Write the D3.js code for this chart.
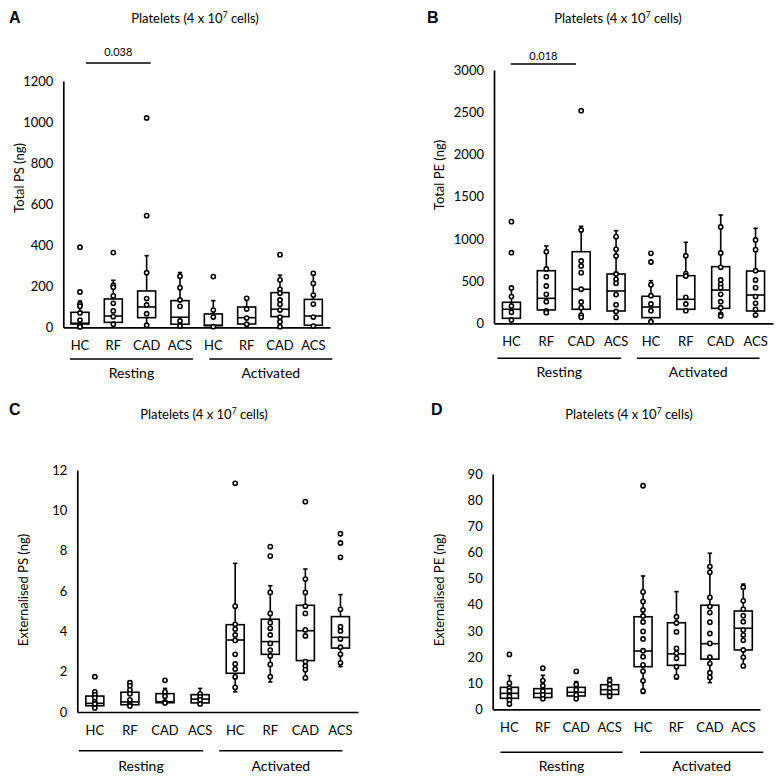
<!DOCTYPE html>
<html><head><meta charset="utf-8">
<script src="https://cdn.jsdelivr.net/npm/d3@7"></script>
<style>
html,body{margin:0;padding:0;background:#fff;}
svg{display:block;}
text{font-family:Lato,"Open Sans",sans-serif;fill:#000;}
</style></head>
<body>
<svg id="chart" width="777" height="778"></svg>
<script>
// ---------- DATA ----------
const categories = ["HC","RF","CAD","ACS","HC","RF","CAD","ACS"];
const conditions = ["Resting","Activated"];
const titleText = "Platelets (4 x 10";

const ticksA = [0,200,400,600,800,1000,1200];
const ticksB = [0,500,1000,1500,2000,2500,3000];
const ticksC = [0,2,4,6,8,10,12];
const ticksD = [0,10,20,30,40,50,60,70,80,90];

// box stats: [whiskerLow, Q1, median, Q3, whiskerHigh]
const totalPS_box = [
  [0,16,20,73,128],[12,24,55,138,229],[5,47,99,177,349],[3,15,49,130,267],
  [0,8,10,65,130],[10,16,47,99,145],[3,52,88,169,254],[3,10,55,136,268]];
const totalPS_pts = [
  [390,172,113,103,70,35,10,5,2],[364,205,195,153,117,80,52,15],[1020,544,266,140,109,66,10],[249,193,133,102,31,6],
  [247,84,50,3],[141,89,45,15],[354,231,185,166,133,112,84,49,27,3],[263,214,157,113,50,6]];

const totalPE_box = [
  [30,59,166,249,420],[120,158,296,623,916],[70,166,403,848,1149],[60,146,383,584,1097],
  [15,67,193,320,505],[140,166,284,564,959],[80,177,394,671,1283],[90,146,335,619,1125]];
const totalPE_pts = [
  [1204,836,418,316,205,130,39],[848,643,552,442,343,256,146,126],[2518,1105,738,679,600,403,252,185,98,71],[1026,876,797,584,521,474,340,220,140,70],
  [829,726,457,327,229,149,19],[800,588,560,308,229,149],[1141,833,663,513,462,422,343,256,185,106,87],[987,872,623,513,422,316,237,166,98]];

const extPS_box = [
  [0.2,0.31,0.43,0.79,1.04],[0.3,0.36,0.5,0.98,1.54],[0.42,0.46,0.51,0.91,1.17],[0.35,0.45,0.64,0.86,1.17],
  [1.0,1.92,3.57,4.33,7.37],[1.49,2.86,3.49,4.6,6.26],[1.64,2.55,4.03,5.29,7.09],[2.25,3.17,3.7,4.73,5.82]];
const extPS_pts = [
  [1.75,1.0,0.85,0.7,0.5,0.4,0.2],[1.45,1.3,1.1,0.9,0.6,0.4,0.3],[1.57,1.0,0.78,0.5,0.45],[0.9,0.75,0.6,0.4],
  [11.34,5.25,4.35,4.11,3.82,3.55,2.86,2.38,2.13,1.74,1.22],[8.2,7.73,5.93,4.89,4.43,4.15,3.82,3.4,3.07,2.78,2.36,1.75],
  [10.43,6.59,5.93,5.25,4.89,4.07,3.77,2.5,2.28,2.1,1.69],[8.84,8.38,7.67,5.09,4.23,4.02,3.62,3.21,2.86,2.44]];

const extPE_box = [
  [2,4.2,6.1,8.4,12.9],[3.8,4.5,6.1,7.9,13],[4,5.1,6.5,8.4,10.6],[4.5,5.7,7.5,9.4,12.1],
  [6.1,16.3,22.3,35.4,51],[11.6,16.8,21.2,33.1,45],[10.2,19.2,25.1,39.8,59.7],[16.3,22.7,31,37.6,47.9]];
const extPE_pts = [
  [21,10,8,7,5,3.5,2],[15.7,11,9,7,5.5,4],[14.5,9.5,7.5,5.5,4],[11,9.5,8,6.5,5],
  [85.5,44.9,41.2,38,35.7,33.4,29.8,26.9,22.4,20.1,17,14.6,10.9,7],[35.4,33,29.6,23.3,21.4,19.5,16.3,12.5],
  [54.6,52.4,42.8,39.3,37,33.3,29,25.2,19.9,17.5,14,12.2],[46.7,41.5,38.3,35.8,33.5,30.3,28.4,26.4,22.7,19.9,16.6]];

const sigA = {from:0, to:2, label:"0.038"};
const sigB = {from:0, to:2, label:"0.018"};

// ---------- LAYOUT ----------
const panels = [
  {letter:"A", lx:9, ly:23, tx:195, ty:23, x0:63.3, x1:330, yTop:81, y0:327.3, ticks:ticksA, ylabel:"Total PS (ng)", ylx:19, yly:178,
   box:totalPS_box, pts:totalPS_pts, catY:350, gY:359, gLY:378, gOff:[[-10,13],[-4,19]], sig:sigA, sigY:63, sigTY:56, sigOff:[6,4]},
  {letter:"B", lx:427, ly:23, tx:618, ty:23, x0:494, x1:773, yTop:70, y0:323.3, ticks:ticksB, ylabel:"Total PE (ng)", ylx:439, yly:175,
   box:totalPE_box, pts:totalPE_pts, catY:346, gY:358.3, gLY:377, gOff:[[-14,5],[-14,4]], sig:sigB, sigY:64, sigTY:60, sigOff:[-0.7,-5.2]},
  {letter:"C", lx:9, ly:415, tx:204, ty:419, x0:77.3, x1:358, yTop:470, y0:712, ticks:ticksC, ylabel:"Externalised PS (ng)", ylx:23, yly:590,
   box:extPS_box, pts:extPS_pts, catY:735, gY:750.7, gLY:771, gOff:[[-16,3],[-16,2]]},
  {letter:"D", lx:431, ly:415, tx:629, ty:419, x0:492.7, x1:760, yTop:474, y0:709.3, ticks:ticksD, ylabel:"Externalised PE (ng)", ylx:439, yly:590,
   box:extPE_box, pts:extPE_pts, catY:732, gY:752.3, gLY:771, gOff:[[-9,13],[-3,20]]}
];

const svg = d3.select("#chart");
const fmt = d3.format("d");

panels.forEach(p => {
  const g = svg.append("g");
  const x = d3.scaleBand().domain(d3.range(categories.length)).range([p.x0, p.x1]).padding(0);
  const y = d3.scaleLinear().domain([0, d3.max(p.ticks)]).range([p.y0, p.yTop]);
  const cx = i => x(i) + x.bandwidth()/2;
  const bw = 18, cap = 2.2;

  // panel letter
  g.append("text").attr("x", p.lx).attr("y", p.ly).text(p.letter)
    .style("font-family","'Liberation Sans',Arial,sans-serif").style("font-weight","bold").style("font-size","16px");
  // title
  const t = g.append("text").attr("x", p.tx).attr("y", p.ty).attr("text-anchor","middle").style("font-size","13px");
  t.append("tspan").text(titleText);
  t.append("tspan").attr("dy",-5).style("font-size","8.5px").text("7");
  t.append("tspan").attr("dy",5).text(" cells)");

  // y axis
  const ya = d3.axisLeft(y).tickValues(p.ticks).tickFormat(fmt).tickSizeInner(0).tickSizeOuter(0).tickPadding(10);
  const yg = g.append("g").attr("transform", `translate(${p.x0},0)`).call(ya);
  yg.select(".domain").attr("stroke","#000").attr("stroke-width",1.7);
  yg.selectAll("text").style("font-family","Lato,sans-serif").style("font-size","13px").attr("fill","#000");
  // x axis
  const xa = d3.axisBottom(x).tickFormat(i => categories[i]).tickSizeInner(0).tickSizeOuter(0).tickPadding(0);
  const xg = g.append("g").attr("transform", `translate(0,${p.y0})`).call(xa);
  xg.select(".domain").attr("stroke","#000").attr("stroke-width",1.7);
  xg.selectAll("text").attr("dy",null).attr("y", p.catY - p.y0).style("font-family","Lato,sans-serif").style("font-size","13px").attr("fill","#000");

  // y label
  g.append("text").attr("transform", `translate(${p.ylx},${p.yly}) rotate(-90)`).attr("text-anchor","middle")
    .attr("dy","0.35em").style("font-size","13px").text(p.ylabel);

  // condition group lines & labels
  conditions.forEach((c, k) => {
    const a = cx(k*4) + p.gOff[k][0], b = cx(k*4+3) + p.gOff[k][1];
    g.append("line").attr("x1",a).attr("x2",b).attr("y1",p.gY).attr("y2",p.gY).attr("stroke","#000").attr("stroke-width",1.5);
    g.append("text").attr("x",(a+b)/2).attr("y",p.gLY).attr("text-anchor","middle").style("font-size","14px").text(c);
  });

  // significance bar
  if (p.sig) {
    const a = cx(p.sig.from) + p.sigOff[0], b = cx(p.sig.to) + p.sigOff[1];
    g.append("line").attr("x1",a).attr("x2",b).attr("y1",p.sigY).attr("y2",p.sigY).attr("stroke","#000").attr("stroke-width",1.5);
    g.append("text").attr("x",(a+b)/2).attr("y",p.sigTY).attr("text-anchor","middle").style("font-size","11px").text(p.sig.label);
  }

  // boxes
  p.box.forEach((s, i) => {
    const c = cx(i);
    const [lo, q1, md, q3, hi] = s;
    const bg = g.append("g").attr("stroke","#000").attr("stroke-width",1.6).attr("fill","none");
    bg.append("line").attr("x1",c).attr("x2",c).attr("y1",y(q3)).attr("y2",y(hi));
    bg.append("line").attr("x1",c-cap).attr("x2",c+cap).attr("y1",y(hi)).attr("y2",y(hi));
    bg.append("line").attr("x1",c).attr("x2",c).attr("y1",y(q1)).attr("y2",y(lo));
    bg.append("line").attr("x1",c-cap).attr("x2",c+cap).attr("y1",y(lo)).attr("y2",y(lo));
    bg.append("rect").attr("x",c-bw/2).attr("y",y(q3)).attr("width",bw).attr("height",y(q1)-y(q3)).attr("fill","#fff");
    bg.append("line").attr("x1",c-bw/2).attr("x2",c+bw/2).attr("y1",y(md)).attr("y2",y(md));
  });
  // points
  p.pts.forEach((arr, i) => {
    g.append("g").selectAll("circle").data(arr).join("circle")
      .attr("cx", cx(i)).attr("cy", d => y(d)).attr("r", 2.1)
      .attr("fill","#fff").attr("stroke","#000").attr("stroke-width",1.6);
  });
});
</script>
</body></html>
